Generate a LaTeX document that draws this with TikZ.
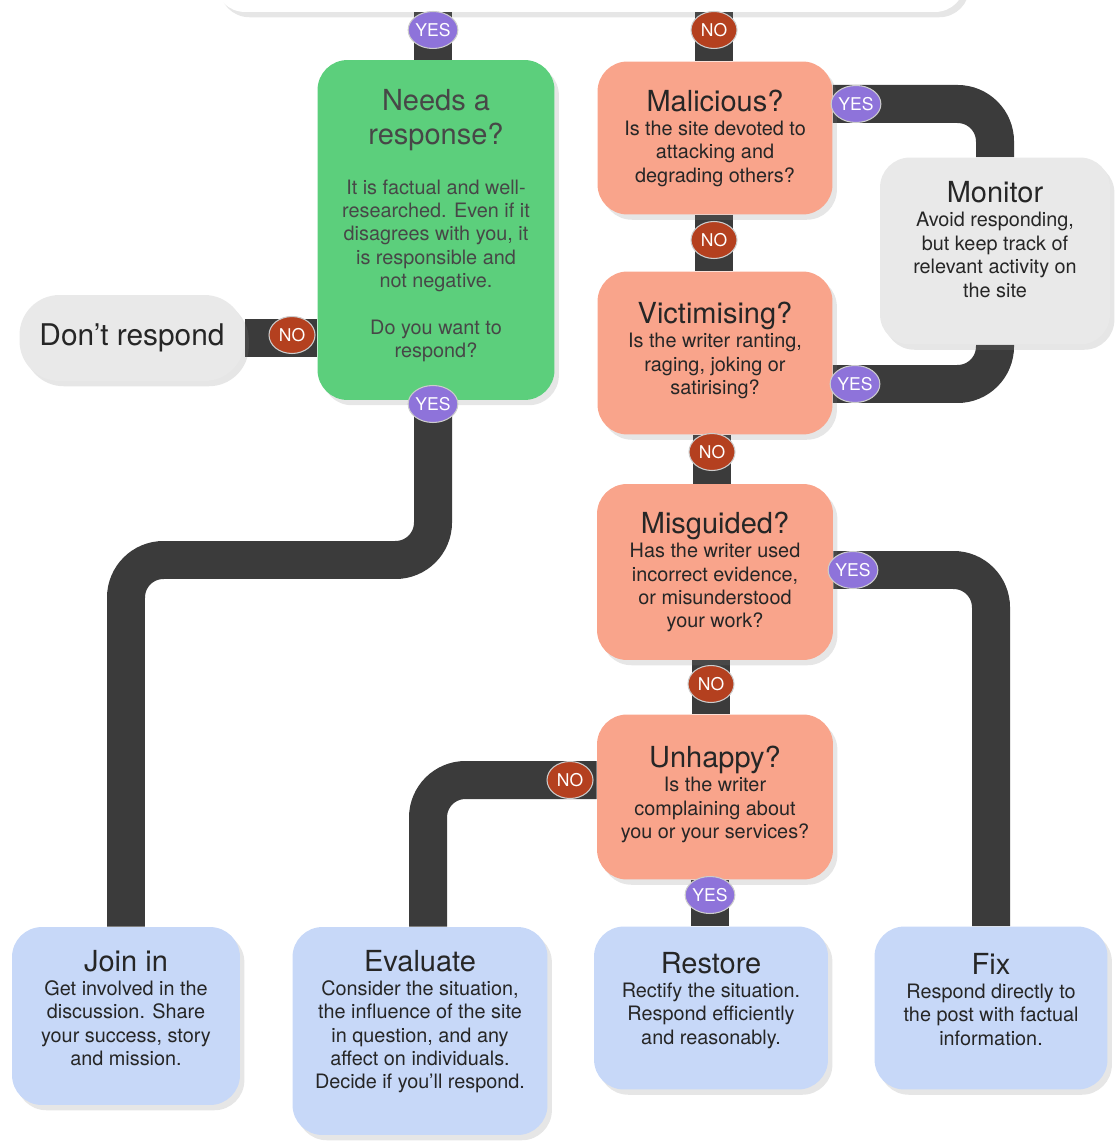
\documentclass[tikz,border=0pt]{standalone}
\usepackage{fontspec}
\setmainfont{TeX Gyre Heros}
\usepackage{xcolor}
\usepackage{tikz}
\usetikzlibrary{shapes.geometric,positioning,backgrounds,shadows,calc}

\definecolor{respgreen}{HTML}{5CCF7C}
\definecolor{qsalmon}{HTML}{F9A48B}
\definecolor{actblue}{HTML}{C7D8F8}
\definecolor{neutgray}{HTML}{E9E9E9}
\definecolor{pipegray}{HTML}{3B3B3B}
\definecolor{yespurple}{HTML}{8E73DA}
\definecolor{nored}{HTML}{B4401F}

\newcommand{\titlef}{\fontsize{16.5}{20}\selectfont}
\newcommand{\bodyf}{\fontsize{11.3}{13.3}\selectfont}

\begin{document}
\begin{tikzpicture}[
    x=0.02cm, y=-0.02cm,
    card/.style={rectangle, rounded corners=0.6cm, align=center, inner sep=4pt, font=\bodyf, text=black!85, drop shadow={shadow xshift=2.5pt, shadow yshift=-3pt, opacity=0.2}},
    start/.style={card, fill=respgreen, text=black!72},
    query/.style={card, fill=qsalmon},
    action/.style={card, fill=actblue},
    neutral/.style={card, fill=neutgray},
    badge/.style={ellipse, minimum width=0.92cm, minimum height=0.74cm, inner sep=0pt, draw=white!60!gray, line width=0.6pt, text=white, font=\fontsize{10}{12}\selectfont},
    yesb/.style={badge, fill=yespurple},
    nob/.style={badge, fill=nored},
    pipe/.style={draw=pipegray, line width=0.76cm, rounded corners=0.75cm},
]
\useasboundingbox (0,0) rectangle (1117,1141);

% --- Top of the chart (cut off) ---
\node[card, fill=white, minimum width=15cm, minimum height=2cm] (intro) at (590,-38) {};

% --- First question ---
\node[start, minimum width=4.74cm, minimum height=6.8cm] (needs) at (436,230)
  {{\titlef Needs a}\\[6pt]{\titlef response?}\\[15pt]It is factual and well-\\researched. Even if it\\disagrees with you, it\\is responsible and\\not negative.\\[13.3pt]Do you want to\\respond?\\[-6pt]\mbox{}};
\node[neutral, rounded corners=0.8cm, font=\fontsize{17}{20}\selectfont, minimum width=4.5cm, minimum height=1.72cm] (dont) at (132,338) {Don't respond};

% --- Questions (right column) ---
\node[query, minimum width=4.7cm, minimum height=3.06cm] (malic) at (715,138)
  {{\titlef Malicious?}\\[0.5pt]Is the site devoted to\\attacking and\\degrading others?};
\node[query, minimum width=4.7cm, minimum height=3.26cm] (vict) at (715,353)
  {{\titlef Victimising?}\\[0.5pt]Is the writer ranting,\\raging, joking or\\satirising?\\[-8pt]\mbox{}};
\node[query, minimum width=4.72cm, minimum height=3.52cm] (misg) at (715,572)
  {{\titlef Misguided?}\\[0.5pt]Has the writer used\\incorrect evidence,\\or misunderstood\\your work?};
\node[query, minimum width=4.72cm, minimum height=3.3cm] (unh) at (715,797)
  {{\titlef Unhappy?}\\[0.5pt]Is the writer\\complaining about\\you or your services?\\[-8pt]\mbox{}};
\node[neutral, minimum width=4.6cm, minimum height=3.74cm] (monitor) at (995,251)
  {{\titlef Monitor}\\[0.5pt]Avoid responding,\\but keep track of\\relevant activity on\\the site\\[0pt]\mbox{}};

% --- Outcomes ---
\node[action, minimum width=4.56cm, minimum height=3.56cm] (join) at (126,1016)
  {{\titlef Join in}\\[0.5pt]Get involved in the\\discussion. Share\\your success, story\\and mission.\\[-4pt]\mbox{}};
\node[action, minimum width=5.1cm, minimum height=4.16cm] (eval) at (420,1031)
  {{\titlef Evaluate}\\[0.5pt]Consider the situation,\\the influence of the site\\in question, and any\\affect on individuals.\\Decide if you'll respond.\\[0pt]\mbox{}};
\node[action, minimum width=4.68cm, minimum height=3.26cm] (restore) at (711,1008)
  {{\titlef Restore}\\[0.5pt]Rectify the situation.\\Respond efficiently\\and reasonably.\\[-2pt]\mbox{}};
\node[action, minimum width=4.66cm, minimum height=3.26cm] (fix) at (991,1008)
  {{\titlef Fix}\\[0.5pt]Respond directly to\\the post with factual\\information.\\[-3pt]\mbox{}};

% --- Badges ---
\node[yesb] (yesTop) at (433,30) {YES};
\node[nob] (noTop) at (714,30) {NO};
\node[nob] (noDont) at (292,335) {NO};
\node[yesb] (yesNeeds) at (433,404) {YES};
\node[yesb] (yesMal) at (856,104) {YES};
\node[nob] (noMal) at (714,240) {NO};
\node[yesb] (yesVic) at (855,384) {YES};
\node[nob] (noVic) at (712,452) {NO};
\node[yesb] (yesMis) at (853,570) {YES};
\node[nob] (noMis) at (711,684) {NO};
\node[nob] (noUnh) at (570,780) {NO};
\node[yesb] (yesUnh) at (710,895) {YES};

% --- Connectors ---
\coordinate (joinbend) at (126,560);
\begin{scope}[on background layer]
\draw[pipe] (intro.south -| yesTop) -- (needs.north -| yesTop);
\draw[pipe] (intro.south -| noTop) -- (malic.north -| noTop);
\draw[pipe] (dont.east) -- (dont.east -| needs.west);
\draw[pipe] (yesNeeds |- needs.south) |- (joinbend) -- (join.north);
\draw[pipe] (malic.east |- yesMal) -| (monitor.north);
\draw[pipe] (vict.east |- yesVic) -| (monitor.south);
\draw[pipe] (misg.east |- yesMis) -| (fix.north);
\draw[pipe] (unh.west |- noUnh) -| ([xshift=0.16cm]eval.north);
\draw[pipe] (noMal |- malic.south) -- (noMal |- vict.north);
\draw[pipe] (noVic |- vict.south) -- (noVic |- misg.north);
\draw[pipe] (noMis |- misg.south) -- (noMis |- unh.north);
\draw[pipe] (yesUnh |- unh.south) -- (yesUnh |- restore.north);
\end{scope}

\end{tikzpicture}
\end{document}
